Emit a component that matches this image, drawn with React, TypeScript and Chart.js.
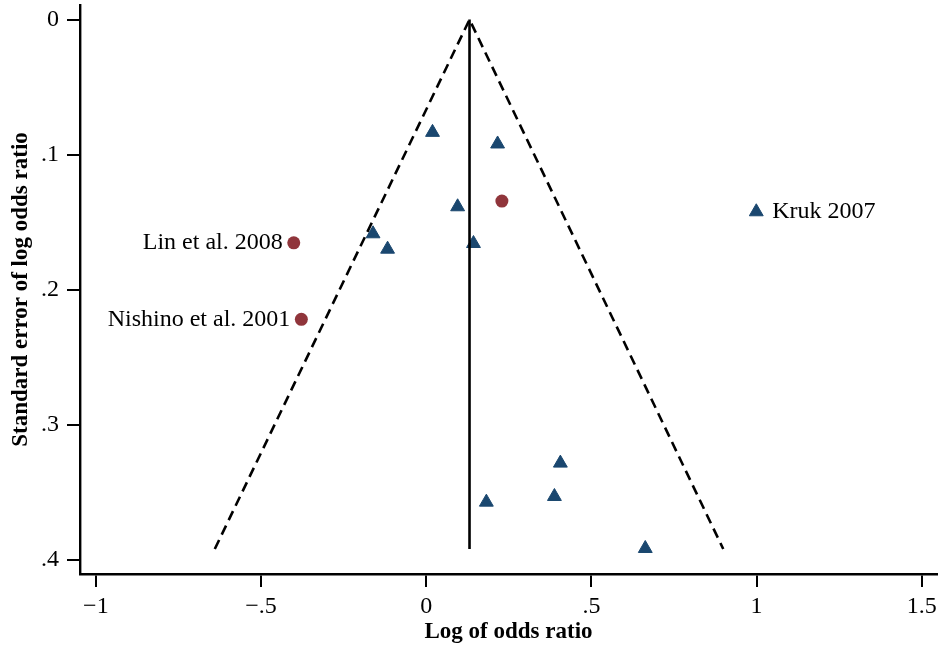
import React, { useEffect, useRef } from "react";
import { Chart, registerables } from "chart.js";

Chart.register(...registerables);

const xTickValues = [-1, -0.5, 0, 0.5, 1, 1.5];
const xTickLabels = ["−1", "−.5", "0", ".5", "1", "1.5"];
const yTickValues = [0, 0.1, 0.2, 0.3, 0.4];
const yTickLabels = ["0", ".1", ".2", ".3", ".4"];

const triangleLogOR = [0.019, 0.216, 0.095, 0.999, -0.161, -0.117, 0.143, 0.406, 0.182, 0.388, 0.663];
const triangleSE = [0.0835, 0.0921, 0.1386, 0.1423, 0.1586, 0.17, 0.1658, 0.3284, 0.3573, 0.3531, 0.3916];
const triangleNames = ["", "", "", "Kruk 2007", "", "", "", "", "", "", ""];

const circleLogOR = [0.229, -0.401, -0.378];
const circleSE = [0.1344, 0.1653, 0.2219];
const circleNames = ["", "Lin et al. 2008", "Nishino et al. 2001"];

const funnelLogOR = [-0.64, 0.131, 0.899];
const funnelSE = [0.392, 0, 0.392];
const pooledLogOR = [0.131, 0.131];
const pooledSE = [0, 0.392];

const FONT = "'Liberation Serif', 'Times New Roman', serif";

const toPoints = (xs: number[], ys: number[]) => xs.map((x, i) => ({ x, y: ys[i] }));

const labelPlugin = {
  id: "pointNames",
  afterDatasetsDraw(chart: any) {
    const ctx = chart.ctx;
    ctx.save();
    ctx.font = `24px ${FONT}`;
    ctx.fillStyle = "#000";
    ctx.textBaseline = "middle";
    chart.data.datasets.forEach((ds: any, i: number) => {
      const names: string[] | undefined = ds.pointNames;
      if (!names) return;
      const meta = chart.getDatasetMeta(i);
      meta.data.forEach((el: any, j: number) => {
        const name = names[j];
        if (!name) return;
        const right = ds.data[j].x > pooledLogOR[0];
        ctx.textAlign = right ? "left" : "right";
        ctx.fillText(name, el.x + (right ? 16 : -11), el.y);
      });
    });
    ctx.restore();
  },
};

export default function App() {
  const ref = useRef<HTMLCanvasElement | null>(null);

  useEffect(() => {
    if (!ref.current) return;
    const chart = new Chart(ref.current, {
      type: "scatter",
      data: {
        datasets: [
          {
            type: "line",
            data: toPoints(funnelLogOR, funnelSE),
            borderColor: "#000",
            borderWidth: 2.6,
            borderDash: [10, 6],
            pointRadius: 0,
            fill: false,
            tension: 0,
          } as any,
          {
            type: "line",
            data: toPoints(pooledLogOR, pooledSE),
            borderColor: "#000",
            borderWidth: 2.6,
            pointRadius: 0,
            fill: false,
            tension: 0,
          } as any,
          {
            data: toPoints(triangleLogOR, triangleSE),
            pointStyle: "triangle",
            pointRadius: 8,
            backgroundColor: "#1a476f",
            borderColor: "#1a476f",
            borderWidth: 1,
            pointNames: triangleNames,
          } as any,
          {
            data: toPoints(circleLogOR, circleSE),
            pointStyle: "circle",
            pointRadius: 6.5,
            backgroundColor: "#90353b",
            borderColor: "#90353b",
            borderWidth: 0,
            pointNames: circleNames,
          } as any,
        ],
      },
      options: {
        responsive: false,
        animation: false,
        layout: { autoPadding: false, padding: { top: 5, right: 4, left: 0, bottom: 0 } },
        plugins: { legend: { display: false }, tooltip: { enabled: false } },
        scales: {
          x: {
            type: "linear",
            min: -1.048,
            max: 1.546,
            afterBuildTicks: (s: any) => {
              s.ticks = xTickValues.map((v) => ({ value: v }));
            },
            afterFit: (s: any) => {
              s.height = 74;
              s.paddingLeft = 0;
              s.paddingRight = 0;
            },
            ticks: {
              callback: (v: any) => xTickLabels[xTickValues.indexOf(Number(v))],
              font: { family: FONT, size: 24 },
              color: "#000",
              padding: 5,
              maxRotation: 0,
              autoSkip: false,
            },
            grid: { drawOnChartArea: false, drawTicks: true, tickLength: 13, color: "#000", lineWidth: 2 },
            border: { display: true, color: "#000", width: 2.4 },
            title: {
              display: true,
              text: "Log of odds ratio",
              font: { family: FONT, size: 23, weight: "bold" },
              color: "#000",
              padding: { top: 0, bottom: 2 },
            },
          },
          y: {
            type: "linear",
            reverse: true,
            min: -0.0108,
            max: 0.4105,
            afterBuildTicks: (s: any) => {
              s.ticks = yTickValues.map((v) => ({ value: v }));
            },
            afterFit: (s: any) => {
              s.width = 80;
              s.paddingTop = 0;
              s.paddingBottom = 0;
            },
            ticks: {
              callback: (v: any) => yTickLabels[yTickValues.indexOf(Number(v))],
              font: { family: FONT, size: 24 },
              color: "#000",
              padding: 8,
              autoSkip: false,
            },
            grid: { drawOnChartArea: false, drawTicks: true, tickLength: 13, color: "#000", lineWidth: 2 },
            border: { display: true, color: "#000", width: 2.4 },
            title: {
              display: true,
              text: "Standard error of log odds ratio",
              font: { family: FONT, size: 23, weight: "bold" },
              color: "#000",
              padding: { top: 7, bottom: 0 },
            },
          },
        },
      } as any,
      plugins: [labelPlugin],
    });
    return () => chart.destroy();
  }, []);

  return (
    <div style={{ position: "absolute", left: 0, top: 0, width: 941, height: 648, background: "#fff" }}>
      <canvas ref={ref} width={941} height={648} style={{ width: 941, height: 648, display: "block" }} />
    </div>
  );
}
